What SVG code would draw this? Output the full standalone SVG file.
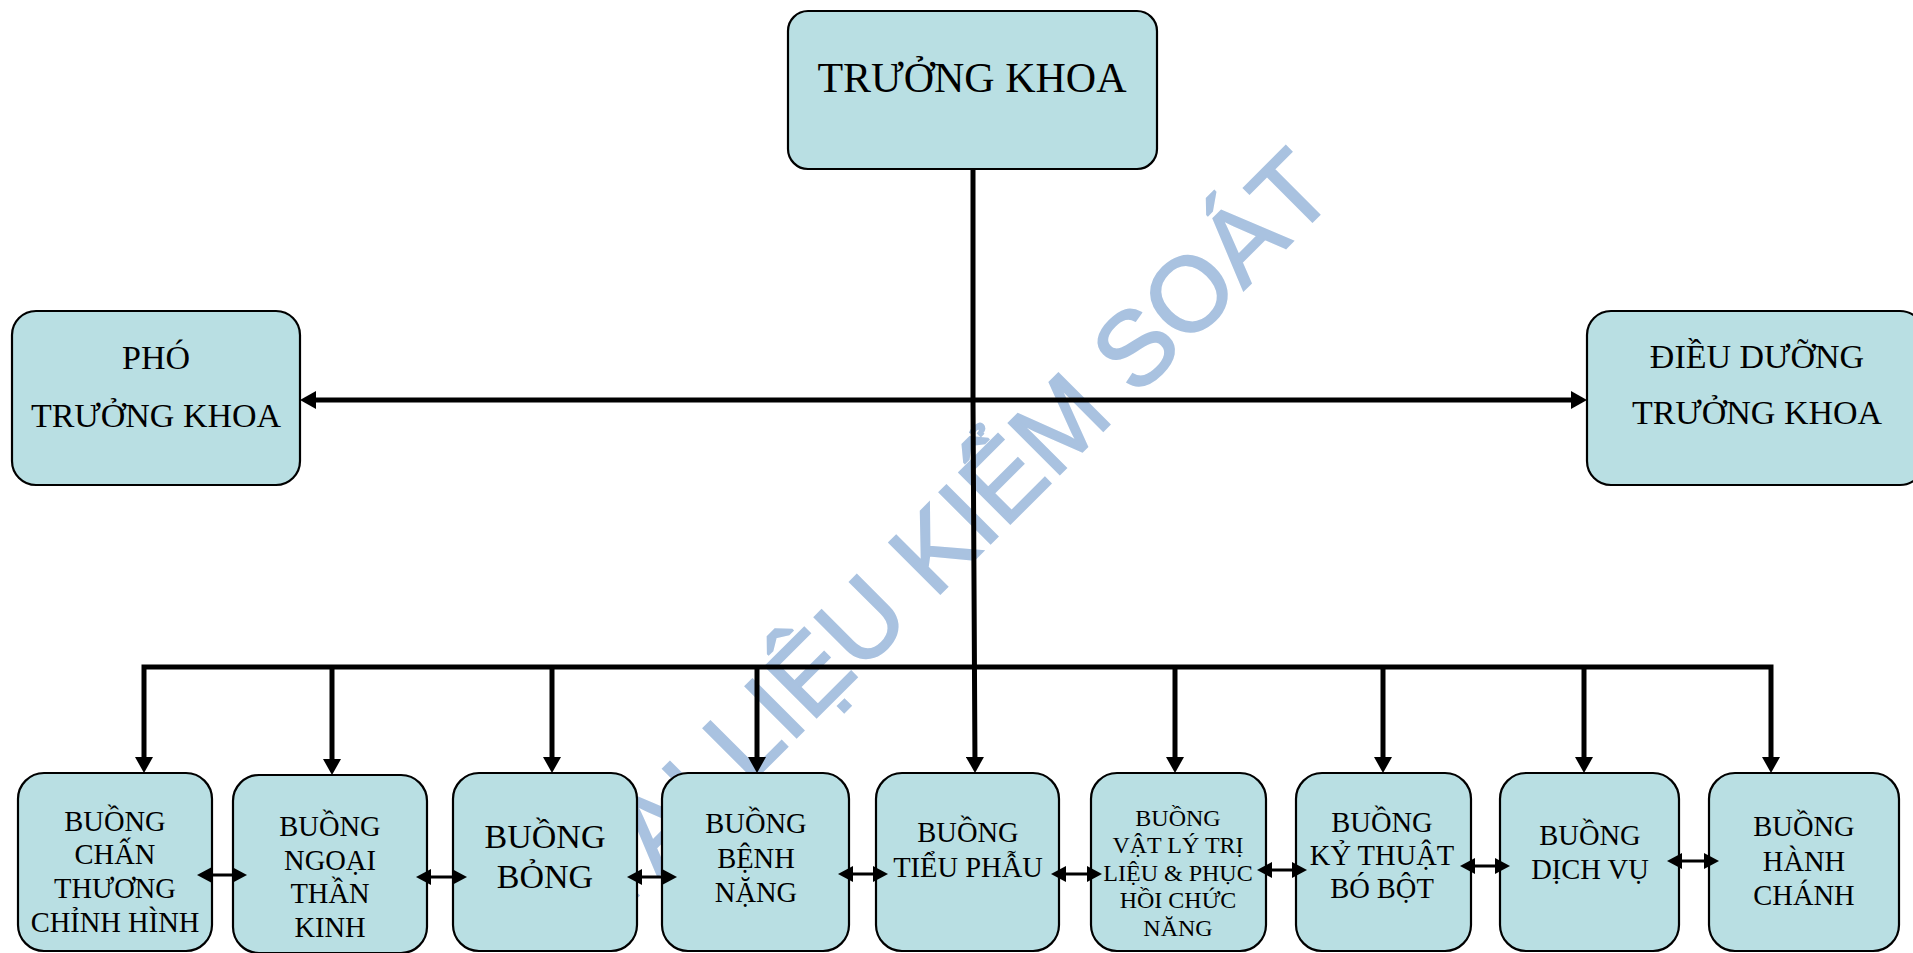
<svg xmlns="http://www.w3.org/2000/svg" width="1913" height="953" viewBox="0 0 1913 953">
<style>
.box{fill:#B9DFE3;stroke:#000;stroke-width:2.2}
.t{font-family:"Liberation Serif","Times New Roman",serif;fill:#000;text-anchor:middle}
.thick{fill:none;stroke:#000;stroke-width:5;stroke-linecap:butt}
.thin{fill:none;stroke:#000;stroke-width:3;stroke-linecap:butt}
.wm{font-family:"Liberation Sans",Arial,sans-serif;font-size:105px;fill:#A9C2E0;stroke:#A9C2E0;stroke-width:2;text-anchor:end}
</style>
<defs>
<marker id="big" markerUnits="userSpaceOnUse" markerWidth="16" markerHeight="18" refX="10" refY="9" orient="auto-start-reverse" viewBox="0 0 16 18">
<path d="M0,0 L16,9 L0,18 z" fill="#000"/>
</marker>
<marker id="small" markerUnits="userSpaceOnUse" markerWidth="15" markerHeight="16" refX="11" refY="8" orient="auto-start-reverse" viewBox="0 0 15 16">
<path d="M0,0 L15,8 L0,16 z" fill="#000"/>
</marker>
</defs>

<text class="wm" transform="translate(1338.5,195.5) rotate(-45)">TÀI LIỆU KIỂM SOÁT</text>

<g id="truong-khoa">
<rect class="box" x="788" y="11" width="369" height="158" rx="20"/>
<text class="t" x="972" y="92" font-size="42">TRƯỞNG KHOA</text>
</g>
<g id="pho-truong-khoa">
<rect class="box" x="12" y="311" width="288" height="174" rx="24"/>
<text class="t" x="156" y="369" font-size="34">PHÓ</text>
<text class="t" x="156" y="427" font-size="34">TRƯỞNG KHOA</text>
</g>
<g id="dieu-duong">
<rect class="box" x="1587" y="311" width="337" height="174" rx="24"/>
<text class="t" x="1757" y="368" font-size="34">ĐIỀU DƯỠNG</text>
<text class="t" x="1757" y="424" font-size="34">TRƯỞNG KHOA</text>
</g>

<g id="buong-chan-thuong">
<rect class="box" x="18" y="773" width="194" height="178" rx="26"/>
<text class="t" font-size="28.5"><tspan x="115" y="831">BUỒNG</tspan><tspan x="115" y="864">CHẤN</tspan><tspan x="115" y="898">THƯƠNG</tspan><tspan x="115" y="932">CHỈNH HÌNH</tspan></text>
</g>
<g id="buong-ngoai-than-kinh">
<rect class="box" x="233" y="775" width="194" height="178" rx="26"/>
<text class="t" font-size="28.5"><tspan x="330" y="836">BUỒNG</tspan><tspan x="330" y="870">NGOẠI</tspan><tspan x="330" y="903">THẦN</tspan><tspan x="330" y="937">KINH</tspan></text>
</g>
<g id="buong-bong">
<rect class="box" x="453" y="773" width="184" height="178" rx="26"/>
<text class="t" font-size="34"><tspan x="545" y="848">BUỒNG</tspan><tspan x="545" y="888">BỎNG</tspan></text>
</g>
<g id="buong-benh-nang">
<rect class="box" x="662" y="773" width="187" height="178" rx="26"/>
<text class="t" font-size="28.5"><tspan x="756" y="833">BUỒNG</tspan><tspan x="756" y="868">BỆNH</tspan><tspan x="756" y="902">NẶNG</tspan></text>
</g>
<g id="buong-tieu-phau">
<rect class="box" x="876" y="773" width="183" height="178" rx="26"/>
<text class="t" font-size="28.5"><tspan x="968" y="842">BUỒNG</tspan><tspan x="968" y="877">TIỂU PHẪU</tspan></text>
</g>
<g id="buong-vat-ly-tri-lieu">
<rect class="box" x="1091" y="773" width="175" height="178" rx="26"/>
<text class="t" font-size="24"><tspan x="1178" y="826">BUỒNG</tspan><tspan x="1178" y="853">VẬT LÝ TRỊ</tspan><tspan x="1178" y="881">LIỆU &amp; PHỤC</tspan><tspan x="1178" y="908">HỒI CHỨC</tspan><tspan x="1178" y="936">NĂNG</tspan></text>
</g>
<g id="buong-ky-thuat-bo-bot">
<rect class="box" x="1296" y="773" width="175" height="178" rx="26"/>
<text class="t" font-size="28.5"><tspan x="1382" y="832">BUỒNG</tspan><tspan x="1382" y="865">KỶ THUẬT</tspan><tspan x="1382" y="898">BÓ BỘT</tspan></text>
</g>
<g id="buong-dich-vu">
<rect class="box" x="1500" y="773" width="179" height="178" rx="26"/>
<text class="t" font-size="28.5"><tspan x="1590" y="845">BUỒNG</tspan><tspan x="1590" y="879">DỊCH VỤ</tspan></text>
</g>
<g id="buong-hanh-chanh">
<rect class="box" x="1709" y="773" width="190" height="178" rx="26"/>
<text class="t" font-size="28.5"><tspan x="1804" y="836">BUỒNG</tspan><tspan x="1804" y="871">HÀNH</tspan><tspan x="1804" y="905">CHÁNH</tspan></text>
</g>

<g id="connectors">
<path class="thick" d="M973,170 L973,400 L975,767" marker-end="url(#big)"/>
<path class="thick" d="M306,400 L1581,400" marker-start="url(#big)" marker-end="url(#big)"/>
<path class="thick" d="M144,767 L144,667 L1771,667 L1771,767" marker-start="url(#big)" marker-end="url(#big)"/>
<path class="thick" d="M332,665 L332,769" marker-end="url(#big)"/>
<path class="thick" d="M552,665 L552,767" marker-end="url(#big)"/>
<path class="thick" d="M757,665 L757,767" marker-end="url(#big)"/>
<path class="thick" d="M1175,665 L1175,767" marker-end="url(#big)"/>
<path class="thick" d="M1383,665 L1383,767" marker-end="url(#big)"/>
<path class="thick" d="M1584,665 L1584,767" marker-end="url(#big)"/>
<path class="thin" d="M201,875 L243,875" marker-start="url(#small)" marker-end="url(#small)"/>
<path class="thin" d="M420,877 L463,877" marker-start="url(#small)" marker-end="url(#small)"/>
<path class="thin" d="M631,877 L673,877" marker-start="url(#small)" marker-end="url(#small)"/>
<path class="thin" d="M842,874 L884,874" marker-start="url(#small)" marker-end="url(#small)"/>
<path class="thin" d="M1055,874 L1098,874" marker-start="url(#small)" marker-end="url(#small)"/>
<path class="thin" d="M1261,870 L1303,870" marker-start="url(#small)" marker-end="url(#small)"/>
<path class="thin" d="M1464,866 L1506,866" marker-start="url(#small)" marker-end="url(#small)"/>
<path class="thin" d="M1671,861 L1715,861" marker-start="url(#small)" marker-end="url(#small)"/>
</g>
</svg>
